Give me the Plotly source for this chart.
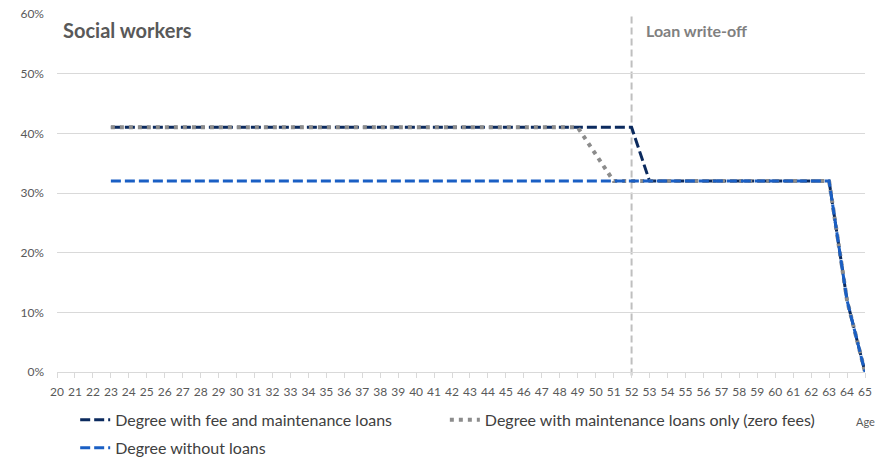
import plotly.graph_objects as go

ages = list(range(20, 66))
fee_and_maint = [None, None, None] + [0.41] * 30 + [0.32] * 11 + [0.12, 0.0]
maint_only = [None, None, None] + [0.41] * 27 + [0.365] + [0.32] * 13 + [0.12, 0.0]
no_loans = [None, None, None] + [0.32] * 41 + [0.12, 0.0]
writeoff_age = 52
y_ticks = [0, 0.1, 0.2, 0.3, 0.4, 0.5, 0.6]
y_tick_labels = ["0%", "10%", "20%", "30%", "40%", "50%", "60%"]

FONT = "Lato, 'Open Sans', sans-serif"

fig = go.Figure()
fig.add_trace(go.Scatter(x=ages, y=fee_and_maint, mode="lines",
                         name="Degree with fee and maintenance loans", legend="legend",
                         line=dict(color="#0B2A5E", width=3, dash="10px,4px")))
fig.add_trace(go.Scatter(x=ages, y=maint_only, mode="lines",
                         name="Degree with maintenance loans only (zero fees)", legend="legend3",
                         line=dict(color="#8C8C8C", width=4, dash="4px,5px")))
fig.add_trace(go.Scatter(x=ages, y=no_loans, mode="lines",
                         name="Degree without loans", legend="legend2",
                         line=dict(color="#1A5FC4", width=3, dash="10px,4px")))

fig.add_shape(type="line", xref="x", yref="paper", x0=writeoff_age, x1=writeoff_age,
              y0=-0.01, y1=1.0, line=dict(color="#BFBFBF", width=2, dash="7px,4px"), layer="below")

fig.add_annotation(text="<b>Social workers</b>", xref="paper", yref="paper", x=0.005, y=0.955,
                   xanchor="left", yanchor="middle", showarrow=False,
                   font=dict(family=FONT, size=20, color="#595959"))
fig.add_annotation(text="<b>Loan write-off</b>", xref="x", yref="paper", x=writeoff_age, y=0.955,
                   xanchor="left", yanchor="middle", xshift=12, showarrow=False,
                   font=dict(family=FONT, size=16, color="#808080"))
fig.add_annotation(text="Age", xref="paper", yref="paper", x=1.0, y=-0.137,
                   xanchor="center", yanchor="middle", showarrow=False,
                   font=dict(family=FONT, size=11, color="#595959"))

legend_common = dict(orientation="h", xanchor="left", yanchor="middle",
                     bgcolor="rgba(0,0,0,0)",
                     font=dict(family=FONT, size=16, color="#404040"), itemwidth=30)

fig.update_layout(
    width=892, height=458,
    margin=dict(l=57, r=27, t=14, b=86, autoexpand=False),
    paper_bgcolor="white", plot_bgcolor="white",
    font=dict(family=FONT, size=12, color="#595959"),
    showlegend=True,
    legend=dict(x=0.0225, y=-0.134, **legend_common),
    legend3=dict(x=0.480, y=-0.134, **legend_common),
    legend2=dict(x=0.0225, y=-0.212, **legend_common),
    xaxis=dict(range=[20, 65], tickmode="array", tickvals=ages, ticktext=[str(a) for a in ages],
               showgrid=False, zeroline=False, showline=True, linecolor="#D9D9D9", linewidth=1,
               ticks="outside", ticklen=5, tickcolor="#D9D9D9", ticklabelstandoff=4,
               tickfont=dict(family=FONT, size=12, color="#595959")),
    yaxis=dict(range=[0, 0.6], tickvals=y_ticks, ticktext=y_tick_labels,
               showgrid=True, gridcolor="#D9D9D9", gridwidth=1, zeroline=False, showline=False,
               ticks="", ticklabelstandoff=12,
               tickfont=dict(family=FONT, size=12, color="#595959")),
)

fig.write_html("out.html", post_script="document.body.style.margin='0';",
               config={"displayModeBar": False})
